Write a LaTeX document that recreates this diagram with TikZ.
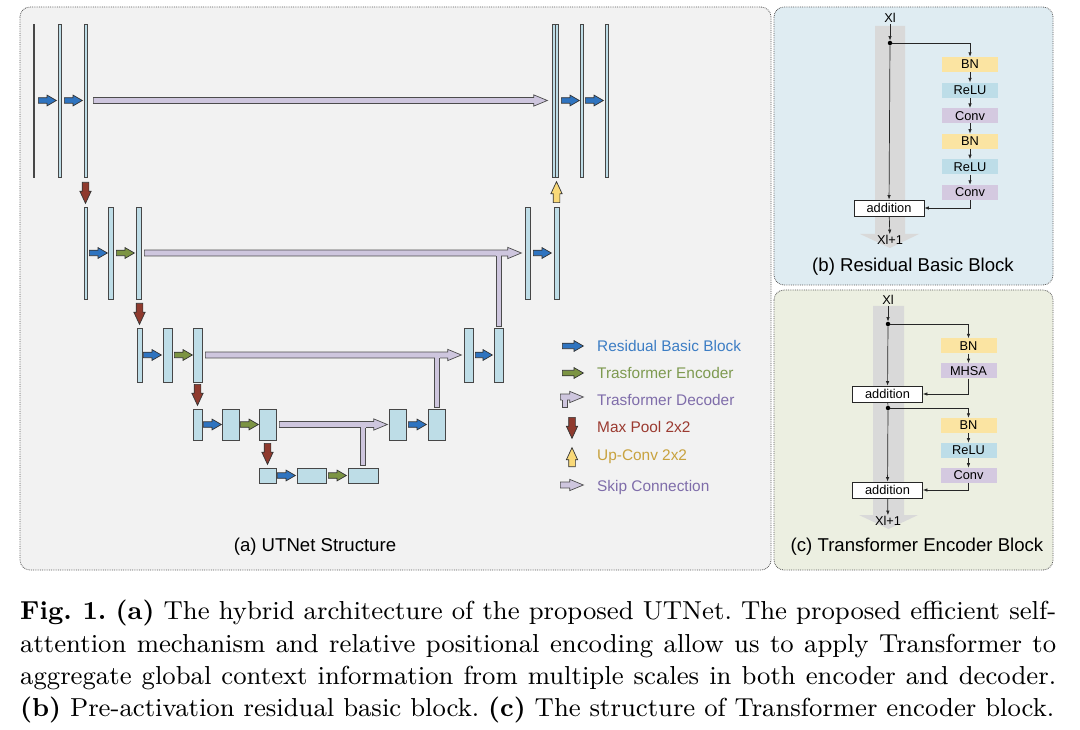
\documentclass[tikz,border=0pt]{standalone}
\usepackage{fontspec}
\setsansfont{Liberation Sans}
\newfontfamily\captionfont{lmroman9}[Extension=.otf, UprightFont=*-regular, BoldFont=*-bold]
\usetikzlibrary{shapes.arrows, arrows.meta, positioning, calc}
\definecolor{PanelGray}{HTML}{F2F2F2}
\definecolor{PanelBlue}{HTML}{DFECF2}
\definecolor{PanelGreen}{HTML}{ECEFE1}
\definecolor{FeatBlue}{HTML}{BEDDE7}
\definecolor{ResBlue}{HTML}{2F74C0}
\definecolor{EncGreen}{HTML}{7C9443}
\definecolor{SkipPurple}{HTML}{CEC6DE}
\definecolor{PoolRed}{HTML}{8F3A2E}
\definecolor{UpYellow}{HTML}{F9D978}
\definecolor{BNYellow}{HTML}{FBE4A2}
\definecolor{ReLUBlue}{HTML}{BDDDE8}
\definecolor{ConvPurple}{HTML}{D4C9E0}
\definecolor{FlowGray}{HTML}{D9D9D9}
\definecolor{TxtBlue}{HTML}{3C7DC4}
\definecolor{TxtGreen}{HTML}{7E9A50}
\definecolor{TxtPurple}{HTML}{7F6DAA}
\definecolor{TxtRed}{HTML}{9B3A30}
\definecolor{TxtGold}{HTML}{C8A23E}

\begin{document}
\begin{tikzpicture}[x=1pt, y=-1pt,
    panel/.style={draw=black!65, densely dotted, line width=0.8pt, rounded corners=10pt},
    feat/.style={draw=black!72, fill=FeatBlue, line width=0.8pt, inner sep=0pt},
    blockarrow/.style={single arrow, draw=black!80, line width=0.7pt, inner xsep=0pt, anchor=tail},
    resarrow/.style={blockarrow, fill=ResBlue, minimum height=18pt, inner ysep=2.4pt, single arrow head extend=2.6pt, single arrow tip angle=60},
    encarrow/.style={resarrow, fill=EncGreen},
    skiparrow/.style={blockarrow, draw=black!70, fill=SkipPurple, inner ysep=2.6pt, single arrow head extend=2.7pt, single arrow tip angle=45},
    poolarrow/.style={blockarrow, fill=PoolRed, minimum height=21pt, inner ysep=3pt, single arrow head extend=2.3pt, single arrow tip angle=50, rotate=-90},
    upconv/.style={blockarrow, fill=UpYellow, minimum height=21pt, inner ysep=3pt, single arrow head extend=2.3pt, single arrow tip angle=50, rotate=90},
    tedge/.style={draw=black!70, line width=0.8pt},
    legtxt/.style={anchor=west, inner sep=0pt, font=\sffamily\fontsize{15.4}{17}\selectfont},
    paneltitle/.style={inner sep=0pt, font=\sffamily\fontsize{18.6}{21}\selectfont},
    small/.style={inner sep=1pt, font=\sffamily\fontsize{12.8}{14}\selectfont},
    op/.style={small, minimum width=56pt, minimum height=15pt, inner sep=0pt},
    bn/.style={op, fill=BNYellow},
    relu/.style={op, fill=ReLUBlue},
    conv/.style={op, fill=ConvPurple},
    addbox/.style={op, draw=black!85, fill=white, line width=0.8pt, minimum width=70pt, minimum height=16pt},
    splitdot/.style={circle, fill=black, inner sep=0pt, minimum size=4.5pt},
    flow/.style={-{Latex[length=4.5pt, width=3.5pt]}, line width=0.7pt, draw=black!85}]

    \fill[white] (0,0) rectangle (1080,730);
    \useasboundingbox (0,0) rectangle (1080,730);

    % Panel backgrounds
    \draw[panel, fill=PanelGray] (20,7) rectangle (771,570);
    \draw[panel, fill=PanelBlue] (774,7) rectangle (1053,285);
    \draw[panel, fill=PanelGreen] (774,290) rectangle (1053,570);

    % Level 1
    \node[feat, fill=black!80, minimum width=1pt, minimum height=153pt] (in) at (34,100.5) {};
    \node[feat, minimum width=3pt, minimum height=153pt] (e1a) at (59.5,100.5) {};
    \node[feat, minimum width=3pt, minimum height=153pt] (e1b) at (85.5,100.5) {};
    \node[resarrow] (r11) at (38,100.5) {};
    \node[resarrow] (r12) at (64,100.5) {};
    \node[skiparrow, minimum height=454pt] (s1) at (93,100.5) {};
    \node[feat, minimum width=3pt, minimum height=153pt] (d1u) at (553.8,100.5) {};
    \node[feat, minimum width=3pt, minimum height=153pt] (d1s) at (556.8,100.5) {};
    \node[feat, minimum width=3pt, minimum height=153pt] (d1b) at (582,100.5) {};
    \node[feat, minimum width=3pt, minimum height=153pt] (d1c) at (607.3,100.5) {};
    \node[resarrow] (r13) at (561,100.5) {};
    \node[resarrow] (r14) at (585,100.5) {};

    % Level 2
    \node[poolarrow] (p1) at (85.5,182) {};
    \node[feat, minimum width=3pt, minimum height=92pt] (e2a) at (85.5,253) {};
    \node[feat, minimum width=5pt, minimum height=92pt] (e2b) at (111.2,253) {};
    \node[feat, minimum width=5pt, minimum height=92pt] (e2c) at (138.8,253) {};
    \node[resarrow] (r21) at (89,253) {};
    \node[encarrow] (t21) at (116,253) {};
    \node[skiparrow, minimum height=377pt] (s2) at (144,253) {};
    \node[feat, minimum width=5pt, minimum height=92pt] (d2a) at (527.5,253) {};
    \node[feat, minimum width=5pt, minimum height=92pt] (d2b) at (556.5,253) {};
    \node[resarrow] (r22) at (533,253) {};
    \node[upconv] (u1) at (556.5,203) {};

    % Level 3
    \node[poolarrow] (p2) at (139.5,303) {};
    \node[feat, minimum width=5pt, minimum height=54pt] (e3a) at (139.5,355) {};
    \node[feat, minimum width=9pt, minimum height=54pt] (e3b) at (167.5,355) {};
    \node[feat, minimum width=9pt, minimum height=54pt] (e3c) at (197.5,355) {};
    \node[resarrow] (r31) at (143,355) {};
    \node[encarrow] (t31) at (174,355) {};
    \node[skiparrow, minimum height=256pt] (s3) at (205,355) {};
    \node[feat, minimum width=9pt, minimum height=54pt] (d3a) at (468.5,355) {};
    \node[feat, minimum width=9pt, minimum height=54pt] (d3b) at (498.5,355) {};
    \node[resarrow, minimum height=17pt] (r32) at (475,355) {};

    % Level 4
    \node[poolarrow] (p3) at (197.5,384) {};
    \node[feat, minimum width=9pt, minimum height=31pt] (e4a) at (197.5,424.5) {};
    \node[feat, minimum width=17pt, minimum height=31pt] (e4b) at (230.5,424.5) {};
    \node[feat, minimum width=17pt, minimum height=31pt] (e4c) at (267.5,424.5) {};
    \node[resarrow] (r41) at (203,424.5) {};
    \node[encarrow] (t41) at (240,424.5) {};
    \node[skiparrow, minimum height=108pt] (s4) at (279,424.5) {};
    \node[feat, minimum width=17pt, minimum height=31pt] (d4a) at (398,424.5) {};
    \node[feat, minimum width=17pt, minimum height=31pt] (d4b) at (436.5,424.5) {};
    \node[resarrow] (r42) at (408,424.5) {};

    % Level 5
    \node[poolarrow] (p4) at (267.5,443) {};
    \node[feat, minimum width=17pt, minimum height=15pt] (e5a) at (267.5,475.5) {};
    \node[feat, minimum width=29pt, minimum height=15pt] (e5b) at (311.5,475.5) {};
    \node[feat, minimum width=30pt, minimum height=15pt] (e5c) at (363,475.5) {};
    \node[resarrow] (r51) at (277,475.5) {};
    \node[encarrow] (t51) at (328,475.5) {};

    % Transformer decoder branches joining the skips
    \fill[SkipPurple] (496,253) rectangle (501,326);
    \draw[tedge] (496,256) -- (496,326) -- (501,326) -- (501,256);
    \fill[SkipPurple] (434.5,355) rectangle (439.5,407);
    \draw[tedge] (434.5,358) -- (434.5,407) -- (439.5,407) -- (439.5,358);
    \fill[SkipPurple] (360.5,424.5) rectangle (365.5,465);
    \draw[tedge] (360.5,427.5) -- (360.5,465) -- (365.5,465) -- (365.5,427.5);

    % Legend
    \node[resarrow, minimum height=21pt] (lg1) at (562,346) {};
    \node[legtxt, TxtBlue] (lt1) at (597,346) {Residual Basic Block};
    \node[encarrow, minimum height=21pt] (lg2) at (562,373) {};
    \node[legtxt, TxtGreen] (lt2) at (597,373) {Trasformer Encoder};
    \node[skiparrow, minimum height=23pt] (lg3) at (560,397) {};
    \fill[SkipPurple] (562,397) rectangle (567,407);
    \draw[tedge] (562,400) -- (562,407) -- (567,407) -- (567,400);
    \node[legtxt, TxtPurple] (lt3) at (597,400) {Trasformer Decoder};
    \node[poolarrow] (lg4) at (572,417) {};
    \node[legtxt, TxtRed] (lt4) at (597,427) {Max Pool 2x2};
    \node[upconv, minimum height=19pt] (lg5) at (572,467) {};
    \node[legtxt, TxtGold] (lt5) at (597,457) {Up-Conv 2x2};
    \node[skiparrow, minimum height=23pt] (lg6) at (560,485) {};
    \node[legtxt, TxtPurple] (lt6) at (597,488) {Skip Connection};

    \node[paneltitle] (ta) at (315,547) {(a) UTNet Structure};

    % Residual basic block
    \fill[FlowGray] (875,26) -- (905,26) -- (905,234) -- (919,234) -- (890,248) -- (860,234) -- (875,234) -- cycle;
    \node[small] (bxin) at (890,18) {Xl};
    \node[splitdot] (bsplit) at (890,43) {};
    \node[bn] (bbn1) at (970,64.5) {BN};
    \node[relu, below=10.2pt of bbn1] (brelu1) {ReLU};
    \node[conv, below=10.2pt of brelu1] (bconv1) {Conv};
    \node[bn, below=10.2pt of bconv1] (bbn2) {BN};
    \node[relu, below=10.2pt of bbn2] (brelu2) {ReLU};
    \node[conv, below=10.2pt of brelu2] (bconv2) {Conv};
    \node[addbox] (badd) at (889,208) {addition};
    \node[small] (bxout) at (890,240) {Xl+1};
    \draw[flow] (bxin) -- (bsplit);
    \draw[flow] (bsplit) -| (bbn1);
    \draw[flow] (bbn1) -- (brelu1);
    \draw[flow] (brelu1) -- (bconv1);
    \draw[flow] (bconv1) -- (bbn2);
    \draw[flow] (bbn2) -- (brelu2);
    \draw[flow] (brelu2) -- (bconv2);
    \draw[flow] (bconv2) |- (badd);
    \draw[flow] (bsplit) -- (badd);
    \draw[flow] (badd) -- (bxout);
    \node[paneltitle] (tb) at (913,267) {(b) Residual Basic Block};

    % Transformer encoder block
    \fill[FlowGray] (873,306) -- (904,306) -- (904,515) -- (918,515) -- (888.5,529) -- (859,515) -- (873,515) -- cycle;
    \node[small] (cxin) at (888,300) {Xl};
    \node[splitdot] (csplit1) at (888,324) {};
    \node[bn] (cbn1) at (968.5,346) {BN};
    \node[conv, below=9.5pt of cbn1] (cmhsa) {MHSA};
    \node[addbox] (cadd1) at (887.5,394) {addition};
    \node[splitdot] (csplit2) at (888,408) {};
    \node[bn] (cbn2) at (968.5,425.5) {BN};
    \node[relu, below=9.5pt of cbn2] (crelu) {ReLU};
    \node[conv, below=9.5pt of crelu] (cconv) {Conv};
    \node[addbox] (cadd2) at (887.5,490) {addition};
    \node[small] (cxout) at (888,521) {Xl+1};
    \draw[flow] (cxin) -- (csplit1);
    \draw[flow] (csplit1) -| (cbn1);
    \draw[flow] (cbn1) -- (cmhsa);
    \draw[flow] (cmhsa) |- (cadd1);
    \draw[flow] (csplit1) -- (cadd1);
    \draw[line width=0.7pt, draw=black!85] (cadd1) -- (csplit2);
    \draw[flow] (csplit2) -| (cbn2);
    \draw[flow] (cbn2) -- (crelu);
    \draw[flow] (crelu) -- (cconv);
    \draw[flow] (cconv) |- (cadd2);
    \draw[flow] (csplit2) -- (cadd2);
    \draw[flow] (cadd2) -- (cxout);
    \node[paneltitle] (tc) at (917,547) {(c) Transformer Encoder Block};

    % Caption
    \node[anchor=north west, inner sep=0pt, text width=1036pt, align=justify,
        font=\captionfont\fontsize{26}{32.4}\selectfont] (caption) at (20,600)
        {\frenchspacing\tolerance=9000 \textbf{Fig. 1.} \textbf{(a)} The hybrid architecture of the proposed UTNet. The proposed efficient self-\linebreak
        attention mechanism and relative positional encoding allow us to apply Transformer to\linebreak
        aggregate global context information from multiple scales in both encoder and decoder.\linebreak
        \textbf{(b)} Pre-activation residual basic block. \textbf{(c)} The structure of Transformer encoder block.};
\end{tikzpicture}
\end{document}
